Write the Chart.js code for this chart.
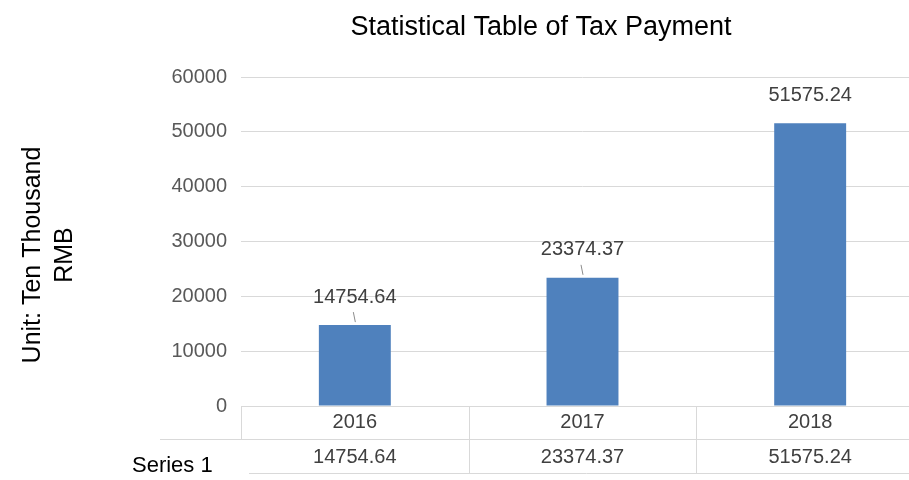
<!DOCTYPE html>
<html>
<head>
<meta charset="utf-8">
<script src="https://cdn.jsdelivr.net/npm/chart.js@4/dist/chart.umd.min.js"></script>
<style>
  html, body { margin: 0; padding: 0; background: #fff; overflow: hidden; }
  #wrap { width: 909px; height: 480px; overflow: hidden; }
  #box { width: 1080px; height: 480px; }
</style>
</head>
<body>
<div id="wrap"><div id="box"><canvas id="chart"></canvas></div></div>
<script>
// data
const years = ['2016', '2017', '2018'];
const taxes = [14754.64, 23374.37, 51575.24];
const yTicks = [0, 10000, 20000, 30000, 40000, 50000, 60000];
const seriesName = 'Series 1';
const chartTitle = 'Statistical Table of Tax Payment';
const axisTitle = ['Unit: Ten Thousand', 'RMB'];
const leaders = [true, true, false];

const FONT = "'Liberation Sans', Arial, sans-serif";
const GRID = '#d9d9d9';

// chart title and y axis title (placed like the original, off-centre)
const titles = {
    id: 'titles',
    afterDraw(chart) {
        const { ctx } = chart;
        ctx.save();
        ctx.fillStyle = '#000';
        ctx.textAlign = 'center';
        ctx.textBaseline = 'middle';
        ctx.font = '27px ' + FONT;
        ctx.fillText(chartTitle, 541, 28);
        ctx.translate(0, 255);
        ctx.rotate(-Math.PI / 2);
        ctx.font = '25px ' + FONT;
        axisTitle.forEach((t, i) => ctx.fillText(t, 0, 33 + i * 32));
        ctx.restore();
    }
};

// value labels above bars, with short leader lines
const barLabels = {
    id: 'barLabels',
    afterDatasetsDraw(chart) {
        const { ctx } = chart;
        const meta = chart.getDatasetMeta(0);
        ctx.save();
        ctx.font = '20px ' + FONT;
        ctx.fillStyle = '#404040';
        ctx.textAlign = 'center';
        ctx.textBaseline = 'middle';
        ctx.strokeStyle = '#8c8c8c';
        ctx.lineWidth = 1;
        meta.data.forEach((bar, i) => {
            ctx.fillText(taxes[i].toFixed(2), bar.x, bar.y - 28);
            if (leaders[i]) {
                ctx.beginPath();
                ctx.moveTo(bar.x - 1.5, bar.y - 13);
                ctx.lineTo(bar.x + 0.5, bar.y - 3);
                ctx.stroke();
            }
        });
        ctx.restore();
    }
};

// data table under the x axis
const dataTable = {
    id: 'dataTable',
    afterDraw(chart) {
        const { ctx, chartArea: a, scales: { x } } = chart;
        const step = x.getPixelForValue(1) - x.getPixelForValue(0);
        const top = a.bottom, mid = a.bottom + 33, bot = a.bottom + 67;
        ctx.save();
        ctx.strokeStyle = GRID;
        ctx.lineWidth = 1;
        ctx.beginPath();
        ctx.moveTo(a.left + 0.5, top); ctx.lineTo(a.left + 0.5, mid);
        ctx.moveTo(160, mid + 0.5); ctx.lineTo(a.right, mid + 0.5);
        ctx.moveTo(a.left + 8, bot + 0.5); ctx.lineTo(a.right, bot + 0.5);
        for (let i = 1; i < years.length; i++) {
            const px = Math.round(x.getPixelForValue(i) - step / 2) + 0.5;
            ctx.moveTo(px, top); ctx.lineTo(px, bot);
        }
        ctx.stroke();

        ctx.font = '20px ' + FONT;
        ctx.fillStyle = '#404040';
        ctx.textAlign = 'center';
        ctx.textBaseline = 'middle';
        taxes.forEach((v, i) => ctx.fillText(v.toFixed(2), x.getPixelForValue(i), (mid + bot) / 2 + 1));

        ctx.font = '22px ' + FONT;
        ctx.fillStyle = '#000';
        ctx.textAlign = 'left';
        ctx.fillText(seriesName, 132, bot - 7);
        ctx.restore();
    }
};

new Chart(document.getElementById('chart'), {
    type: 'bar',
    data: {
        labels: years,
        datasets: [{
            label: seriesName,
            data: taxes,
            backgroundColor: '#4f81bd',
            barPercentage: 0.316,
            categoryPercentage: 1
        }]
    },
    options: {
        responsive: true,
        maintainAspectRatio: false,
        animation: false,
        layout: { padding: { left: 0, right: 156, top: 77, bottom: 42 } },
        plugins: {
            legend: { display: false },
            tooltip: { enabled: false },
            title: { display: false }
        },
        scales: {
            x: {
                grid: { display: false, drawTicks: false },
                border: { display: true, color: GRID },
                ticks: { color: '#404040', font: { family: FONT, size: 20 }, padding: 4 }
            },
            y: {
                min: 0,
                max: 60000,
                afterBuildTicks: s => { s.ticks = yTicks.map(v => ({ value: v })); },
                afterFit: s => { s.width = 241; },
                grid: { color: GRID, drawTicks: false },
                border: { display: false },
                ticks: {
                    color: '#595959',
                    font: { family: FONT, size: 20 },
                    padding: 14,
                    callback: v => String(v)
                }
            }
        }
    },
    plugins: [barLabels, dataTable, titles]
});
</script>
</body>
</html>
